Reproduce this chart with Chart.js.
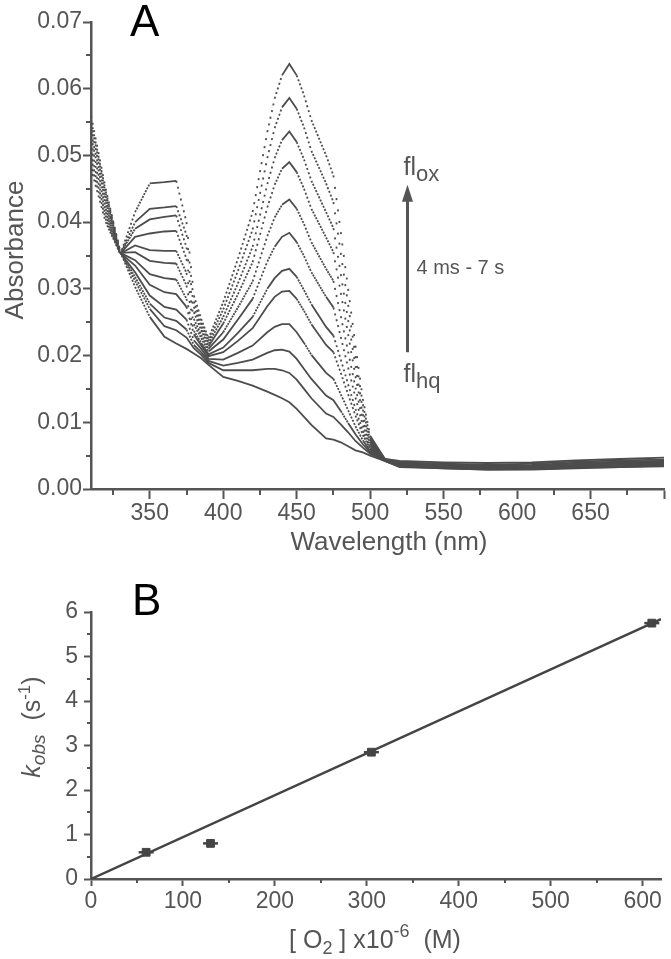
<!DOCTYPE html>
<html>
<head>
<meta charset="utf-8">
<script src="https://cdn.jsdelivr.net/npm/chart.js@4"></script>
<style>
  html, body { margin: 0; padding: 0; background: #fff; }
  canvas { display: block; }
</style>
</head>
<body>
<canvas id="chartA" width="671" height="560"></canvas>
<canvas id="chartB" width="671" height="399"></canvas>
<script>
// ---- panel A: absorbance spectra, 4 ms - 7 s ----
const wavelengths = [310, 320, 330, 340, 350, 360, 368, 375, 380, 385, 390, 400, 410, 420, 430, 435, 440, 445, 450, 455,
  460, 470, 475, 480, 485, 490, 495, 500, 510, 520, 550, 580, 610, 640, 670, 700];

const spec01 = [.0480, .0400, .0352, .0415, .0458, .0460, .0462, .0400, .0290, .0255, .0226, .0280, .0345, .0415, .0535, .0585, .0620, .0637, .0620, .0590, .0553, .0500, .0470, .0385, .0300, .0215, .0135, .0080, .0045, .0042, .0040, .0039, .0040, .0043, .0045, .0047];
const spec02 = [.0488, .0405, .0352, .0400, .0420, .0422, .0424, .0381, .0281, .0249, .0222, .0269, .0327, .0389, .0496, .0541, .0572, .0586, .0570, .0542, .0507, .0458, .0430, .0354, .0276, .0199, .0127, .0077, .0045, .0040, .0038, .0036, .0038, .0041, .0043, .0044];
const spec03 = [.0496, .0410, .0353, .0390, .0404, .0408, .0410, .0362, .0273, .0243, .0218, .0258, .0308, .0363, .0457, .0496, .0523, .0536, .0520, .0494, .0462, .0415, .0391, .0322, .0253, .0184, .0119, .0074, .0044, .0039, .0037, .0035, .0036, .0039, .0041, .0042];
const spec04 = [.0503, .0415, .0353, .0378, .0383, .0386, .0387, .0345, .0265, .0238, .0214, .0248, .0292, .0340, .0422, .0456, .0480, .0490, .0475, .0450, .0420, .0377, .0355, .0294, .0232, .0169, .0112, .0071, .0044, .0038, .0035, .0034, .0035, .0038, .0040, .0041];
const spec05 = [.0512, .0420, .0353, .0365, .0358, .0357, .0357, .0324, .0255, .0231, .0210, .0235, .0272, .0311, .0379, .0407, .0426, .0434, .0420, .0397, .0370, .0330, .0312, .0259, .0206, .0152, .0103, .0068, .0044, .0037, .0034, .0033, .0034, .0036, .0039, .0040];
const spec06 = [.0520, .0425, .0354, .0355, .0342, .0339, .0338, .0305, .0247, .0226, .0206, .0224, .0254, .0285, .0341, .0363, .0378, .0384, .0370, .0349, .0325, .0288, .0272, .0228, .0182, .0137, .0095, .0065, .0043, .0036, .0034, .0032, .0033, .0035, .0038, .0039];
const spec07 = [.0528, .0430, .0354, .0343, .0322, .0316, .0314, .0285, .0237, .0219, .0202, .0212, .0234, .0258, .0300, .0316, .0327, .0330, .0318, .0298, .0277, .0243, .0230, .0194, .0157, .0120, .0087, .0062, .0043, .0036, .0033, .0031, .0032, .0034, .0036, .0038];
const spec08 = [.0534, .0434, .0354, .0335, .0306, .0295, .0292, .0273, .0232, .0215, .0199, .0205, .0222, .0241, .0274, .0288, .0296, .0297, .0285, .0267, .0247, .0216, .0205, .0174, .0142, .0110, .0081, .0060, .0043, .0035, .0033, .0031, .0031, .0033, .0035, .0037];
const spec09 = [.0542, .0439, .0354, .0325, .0290, .0273, .0269, .0254, .0223, .0210, .0195, .0194, .0204, .0215, .0235, .0243, .0247, .0247, .0235, .0219, .0201, .0174, .0165, .0142, .0118, .0094, .0073, .0057, .0043, .0035, .0032, .0030, .0031, .0033, .0035, .0036];
const spec10 = [.0548, .0443, .0355, .0318, .0278, .0257, .0252, .0239, .0216, .0205, .0192, .0185, .0189, .0194, .0204, .0208, .0209, .0206, .0195, .0180, .0165, .0140, .0133, .0117, .0099, .0082, .0067, .0055, .0042, .0034, .0032, .0030, .0030, .0032, .0034, .0036];
const spec11 = [.0553, .0446, .0355, .0312, .0270, .0244, .0238, .0227, .0211, .0201, .0189, .0178, .0178, .0178, .0180, .0180, .0178, .0174, .0164, .0150, .0136, .0113, .0108, .0097, .0085, .0072, .0062, .0053, .0042, .0034, .0031, .0029, .0030, .0032, .0033, .0035];
const spec12 = [.0560, .0450, .0355, .0303, .0258, .0228, .0218, .0210, .0203, .0196, .0186, .0168, .0162, .0155, .0146, .0141, .0136, .0130, .0120, .0108, .0096, .0076, .0074, .0070, .0064, .0058, .0055, .0050, .0042, .0033, .0031, .0029, .0029, .0031, .0033, .0034];
const spectra = [spec01, spec02, spec03, spec04, spec05, spec06, spec07, spec08, spec09, spec10, spec11, spec12];

const xTicksA = [350, 400, 450, 500, 550, 600, 650, 700];
const xTickLabelsA = ['350', '400', '450', '500', '550', '600', '650', ''];
const xMinorA = [325, 375, 425, 475, 525, 575, 625, 675];
const yTicksA = [0, 0.01, 0.02, 0.03, 0.04, 0.05, 0.06, 0.07];
const yTickLabelsA = ['0.00', '0.01', '0.02', '0.03', '0.04', '0.05', '0.06', '0.07'];
const yMinorA = [0.005, 0.015, 0.025, 0.035, 0.045, 0.055, 0.065];

// arrow fl_hq -> fl_ox
const arrowWl = 525, arrowFrom = 0.0205, arrowTo = 0.0456;

// ---- panel B: k_obs vs [O2] ----
const o2Conc = [60, 130, 305, 610];
const kObs = [0.60, 0.80, 2.85, 5.75];
const fitX = [0, 620];
const fitY = [0, 5.84];
const xTicksB = [0, 100, 200, 300, 400, 500, 600];
const xTickLabelsB = ['0', '100', '200', '300', '400', '500', '600'];
const xMinorB = [50, 150, 250, 350, 450, 550];
const yTicksB = [0, 1, 2, 3, 4, 5, 6];
const yTickLabelsB = ['0', '1', '2', '3', '4', '5', '6'];
const yMinorB = [0.5, 1.5, 2.5, 3.5, 4.5, 5.5];

const FONT = '"Liberation Sans", Arial, Helvetica, sans-serif';
const AXIS = '#555';
const INK = '#4d4d4d';

// original is sampled every nm; steep parts look dotted, flat parts solid
const PX_PER_NM = 573 / 390;
function dotted(ctx) {
  const dx = Math.abs(ctx.p1.x - ctx.p0.x) || 0.01;
  const dy = Math.abs(ctx.p1.y - ctx.p0.y);
  const step = PX_PER_NM * Math.hypot(dx, dy) / dx;
  return step < 2.8 ? [] : [2, step - 2];
}

function drawRich(ctx, x, y, parts, align) {
  let w = 0;
  parts.forEach(p => { ctx.font = (p[3] || '') + ' ' + p[1] + 'px ' + FONT; w += ctx.measureText(p[0]).width; });
  let cx = align === 'center' ? x - w / 2 : x;
  ctx.textAlign = 'left';
  ctx.textBaseline = 'alphabetic';
  parts.forEach(p => {
    ctx.font = (p[3] || '') + ' ' + p[1] + 'px ' + FONT;
    ctx.fillText(p[0], cx, y + p[2]);
    cx += ctx.measureText(p[0]).width;
  });
}

function minorTicks(chart, xs, ys, xLen, yLen) {
  const { ctx, chartArea: a, scales: { x, y } } = chart;
  ctx.save();
  ctx.strokeStyle = AXIS;
  ctx.lineWidth = 2;
  ctx.beginPath();
  xs.forEach(v => { const px = Math.round(x.getPixelForValue(v)); ctx.moveTo(px, a.bottom); ctx.lineTo(px, a.bottom + xLen); });
  ys.forEach(v => { const py = Math.round(y.getPixelForValue(v)); ctx.moveTo(a.left, py); ctx.lineTo(a.left - yLen, py); });
  ctx.stroke();
  ctx.restore();
}

const decorA = {
  id: 'decorA',
  afterDraw(chart) {
    const { ctx, scales: { x, y } } = chart;
    minorTicks(chart, xMinorA, yMinorA, 6, 5);
    ctx.save();
    ctx.fillStyle = '#000';
    drawRich(ctx, 130, 36, [['A', 44, 0]]);
    ctx.fillStyle = AXIS;
    drawRich(ctx, 389, 550, [['Wavelength (nm)', 26, 0]], 'center');
    ctx.save();
    ctx.translate(23, 250);
    ctx.rotate(-Math.PI / 2);
    drawRich(ctx, 0, 0, [['Absorbance', 26, 0]], 'center');
    ctx.restore();

    // arrow
    const ax = Math.round(x.getPixelForValue(arrowWl)) + 0.5;
    const y0 = y.getPixelForValue(arrowFrom), y1 = y.getPixelForValue(arrowTo);
    ctx.strokeStyle = AXIS;
    ctx.lineWidth = 3;
    ctx.beginPath(); ctx.moveTo(ax, y0); ctx.lineTo(ax, y1 + 12); ctx.stroke();
    ctx.beginPath(); ctx.moveTo(ax, y1); ctx.lineTo(ax - 5.5, y1 + 17); ctx.lineTo(ax + 5.5, y1 + 17); ctx.closePath(); ctx.fill();

    drawRich(ctx, ax - 4, y1 - 10, [['fl', 25, 0], ['ox', 22, 6]]);
    drawRich(ctx, ax + 9, 274, [['4 ms - 7 s', 20, 0]]);
    drawRich(ctx, ax - 4, y0 + 30, [['fl', 25, 0], ['hq', 22, 6]]);
    ctx.restore();
  }
};

const decorB = {
  id: 'decorB',
  afterDraw(chart) {
    const { ctx } = chart;
    minorTicks(chart, xMinorB, yMinorB, 4, 4);
    ctx.save();
    ctx.fillStyle = '#000';
    drawRich(ctx, 132, 55, [['B', 44, 0]]);
    ctx.fillStyle = AXIS;
    drawRich(ctx, 375, 388, [['[ O', 25, 0], ['2', 18, 6], [' ] x10', 25, 0], ['-6', 18, -11], ['  (M)', 25, 0]], 'center');
    ctx.save();
    ctx.translate(40, 167);
    ctx.rotate(-Math.PI / 2);
    drawRich(ctx, 0, 0, [['k', 25, 0, 'italic'], ['obs', 19, 5, 'italic'], ['  (s', 25, 0], ['-1', 17, -10], [')', 25, 0]], 'center');
    ctx.restore();
    ctx.restore();
  }
};

function axisOpts(ticksArr, labels, min, max, tickLen, pad, fixSize, horizontal) {
  return {
    type: 'linear', min, max,
    afterBuildTicks: s => { s.ticks = ticksArr.map(v => ({ value: v })); },
    afterFit: s => { if (horizontal) s.height = fixSize; else s.width = fixSize; },
    border: { display: true, color: AXIS, width: 2.5 },
    grid: { display: true, drawOnChartArea: false, drawTicks: true, tickLength: tickLen, tickColor: AXIS, tickWidth: 2, color: AXIS },
    ticks: {
      autoSkip: false, maxRotation: 0, padding: pad, color: AXIS,
      font: { family: FONT, size: 23 },
      callback: (v, i) => labels[i]
    }
  };
}

const base = {
  responsive: false,
  animation: false,
  events: [],
  plugins: { legend: { display: false }, tooltip: { enabled: false } }
};

new Chart(document.getElementById('chartA'), {
  type: 'line',
  data: {
    datasets: spectra.map(s => ({
      data: wavelengths.map((w, i) => ({ x: w, y: s[i] })),
      borderColor: INK,
      borderWidth: 1.8,
      pointRadius: 0,
      tension: 0,
      segment: { borderDash: dotted }
    }))
  },
  options: {
    ...base,
    layout: { padding: { left: 0, top: 22, right: 7, bottom: 0 } },
    scales: {
      x: axisOpts(xTicksA, xTickLabelsA, 310, 700, 10, 1, 71, true),
      y: axisOpts(yTicksA, yTickLabelsA, 0, 0.07, 8, 1, 91, false)
    }
  },
  plugins: [decorA]
});

new Chart(document.getElementById('chartB'), {
  type: 'scatter',
  data: {
    datasets: [
      {
        data: o2Conc.map((c, i) => ({ x: c, y: kObs[i] })),
        pointStyle: 'rect', pointRadius: 5.5,
        backgroundColor: '#444', borderColor: '#444', borderWidth: 1
      },
      {
        data: o2Conc.map((c, i) => ({ x: c, y: kObs[i] })),
        pointStyle: 'line', pointRadius: 7.5,
        borderColor: '#444', borderWidth: 2.5
      },
      {
        type: 'line',
        data: fitX.map((c, i) => ({ x: c, y: fitY[i] })),
        borderColor: '#444', borderWidth: 2.5, pointRadius: 0
      }
    ]
  },
  options: {
    ...base,
    layout: { padding: { left: 0, top: 52, right: 7, bottom: 0 } },
    scales: {
      x: axisOpts(xTicksB, xTickLabelsB, 0, 620, 7, 2, 80, true),
      y: axisOpts(yTicksB, yTickLabelsB, 0, 6, 7, 6, 91, false)
    }
  },
  plugins: [decorB]
});
</script>
</body>
</html>
